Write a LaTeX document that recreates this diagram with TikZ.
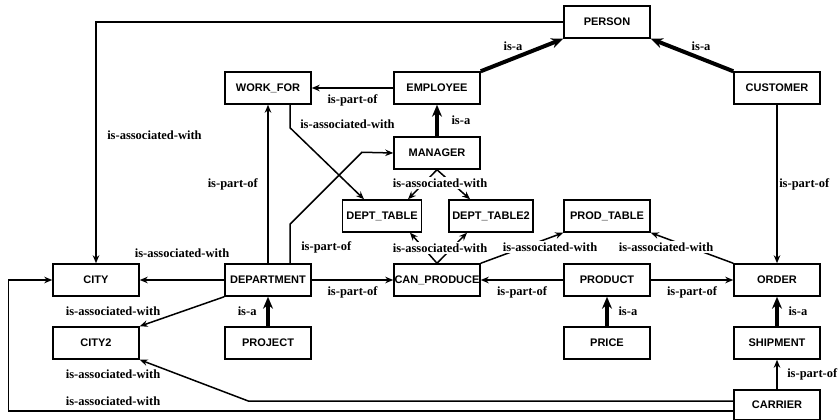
\documentclass[tikz,border=0pt]{standalone}
\usepackage{fontspec}
\setmainfont{Liberation Serif}
\setsansfont{Liberation Sans}
\usepackage{tikz}
\usetikzlibrary{arrows.meta,positioning}

\begin{document}
\begin{tikzpicture}[x=1pt, y=-1pt,
    entity/.style={draw, line width=1.5pt, minimum width=86pt, minimum height=32pt, inner xsep=0pt, font=\sffamily\bfseries\fontsize{11}{13}\selectfont},
    rel/.style={font=\bfseries\fontsize{12.5}{14}\selectfont, inner sep=1.5pt},
    link/.style={-{Stealth[length=8pt,width=6.5pt]}, line width=1.5pt},
    isa/.style={-{Stealth[length=12pt,width=10pt]}, line width=4pt}]

    \useasboundingbox (0,0) rectangle (838,420);

    % Entities
    \node[entity] (person) at (607,22) {PERSON};
    \node[entity] (workfor) at (268,88) {WORK\_FOR};
    \node[entity] (employee) at (437,88) {EMPLOYEE};
    \node[entity] (customer) at (777,88) {CUSTOMER};
    \node[entity] (manager) at (437,153) {MANAGER};
    \node[entity, minimum width=79pt] (depttable) at (382,216) {DEPT\_TABLE};
    \node[entity, minimum width=84pt] (depttable2) at (491,216) {DEPT\_TABLE2};
    \node[entity] (prodtable) at (607,216) {PROD\_TABLE};
    \node[entity] (city) at (96,280) {CITY};
    \node[entity] (department) at (268,280) {DEPARTMENT};
    \node[entity] (canproduce) at (437,280) {CAN\_PRODUCE};
    \node[entity] (product) at (607,280) {PRODUCT};
    \node[entity] (order) at (777,280) {ORDER};
    \node[entity] (city2) at (96,343) {CITY2};
    \node[entity] (project) at (268,343) {PROJECT};
    \node[entity] (price) at (607,343) {PRICE};
    \node[entity] (shipment) at (777,343) {SHIPMENT};
    \node[entity, minimum height=30pt] (carrier) at (777,405) {CARRIER};

    % is-a links
    \path[isa]
        (employee.north east) edge node[rel, above=4pt, pos=0.39] {is-a} (person.south west)
        (customer.north west) edge node[rel, above=4pt, pos=0.39] {is-a} (person.south east)
        (manager) edge node[rel, right=11pt] {is-a} (employee)
        (project) edge node[rel, left=8pt] {is-a} (department)
        (price) edge node[rel, right=8pt] {is-a} (product)
        (shipment) edge node[rel, right=8pt] {is-a} (order);

    % is-part-of and is-associated-with links
    \path[link]
        (employee) edge node[rel, below=4pt] {is-part-of} (workfor)
        (department) edge node[rel, left=8pt] {is-part-of} (workfor)
        (customer) edge node[rel, right] {is-part-of} (order)
        (department) edge node[rel, above=20pt] {is-associated-with} (city)
        (department) edge node[rel, below=4pt] {is-part-of} (canproduce)
        (product) edge node[rel, below=4pt] {is-part-of} (canproduce)
        (product) edge node[rel, below=4pt] {is-part-of} (order)
        (carrier) edge node[rel, right=8pt] {is-part-of} (shipment)
        (department.south west) edge (city2.north east)
        (manager.south) edge ([xshift=26pt]depttable.north)
        (manager.south) edge ([xshift=-21pt]depttable2.north)
        (canproduce.north) edge ([xshift=28pt]depttable.south)
        (canproduce.north) edge ([xshift=-24pt]depttable2.south)
        (canproduce.north east) edge (prodtable.south west)
        (order.north west) edge (prodtable.south east);

    % routed links
    \draw[link] (person.west) -| node[rel, right=9pt, pos=0.735] {is-associated-with} (city.north);
    \draw[link] ([xshift=22pt]workfor.south) -- node[rel, right=8pt, pos=0.85] {is-associated-with} ++(0,23) -- ([xshift=-18pt]depttable.north);
    \draw[link] ([xshift=22pt]department.north) -- node[rel, right=9pt, pos=0.41] {is-part-of} ++(0,-39) -- ++(72,-72) -- (manager.west);
    \draw[link] ([yshift=4pt]carrier.west) -- ++(-485,0) -- (city2.south east);
    \draw[link] ([yshift=-6pt]carrier.west) -- ++(-725,0) |- (city.west);

    % labels shared by two links
    \node[rel, fill=white] (mgrassoc) at (440,183) {is-associated-with};
    \node[rel, fill=white] (cpassoc) at (440,248) {is-associated-with};
    \node[rel, fill=white] (cpprod) at (550,247) {is-associated-with};
    \node[rel, fill=white] (ordprod) at (666,247) {is-associated-with};
    \node[rel] (deptcity2) at (113,311) {is-associated-with};
    \node[rel] (carrcity2) at (113,374) {is-associated-with};
    \node[rel] (carrcity) at (113,401) {is-associated-with};

\end{tikzpicture}
\end{document}
